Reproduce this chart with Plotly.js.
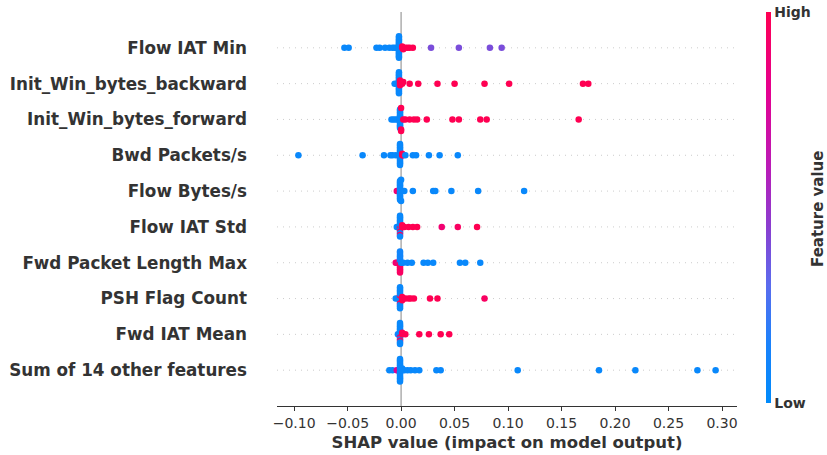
<!DOCTYPE html>
<html>
<head>
<meta charset="utf-8">
<script src="https://cdn.plot.ly/plotly-3.0.1.min.js"></script>
<style>html,body{margin:0;padding:0;background:#fff;}#chart{width:827px;height:455px;}</style>
</head>
<body>
<div id="chart"></div>
<script>
// Feature names, top to bottom
const features = ["Flow IAT Min","Init_Win_bytes_backward","Init_Win_bytes_forward","Bwd Packets/s","Flow Bytes/s","Flow IAT Std","Fwd Packet Length Max","PSH Flag Count","Fwd IAT Mean","Sum of 14 other features"];

// SHAP values and (normalised) feature values per feature
const shapFlowIATMin = [-0.053,-0.049,-0.023,-0.020,-0.015,-0.011,-0.008,-0.006,-0.004,
  -0.002,-0.002,-0.002,-0.002,-0.002,-0.002,-0.002,-0.002,-0.002,-0.002,-0.002,-0.002,-0.002,-0.002,-0.002,-0.002,
  0.001,0.001,0.002,0.004,0.006,0.008,0.011,
  0.028,0.054,0.083,0.094];
const featFlowIATMin = [0.05,0.05,0.05,0.05,0.05,0.05,0.05,0.05,0.05,
  0.05,0.05,0.05,0.05,0.05,0.05,0.05,0.05,0.05,0.05,0.05,0.05,0.05,0.05,0.05,0.05,
  1,1,1,1,1,1,1,
  0.4,0.4,0.4,0.4];

const shapInitWinBwd = [-0.006,-0.004,
  -0.002,-0.002,-0.002,-0.002,-0.002,-0.002,-0.002,-0.002,-0.002,-0.002,-0.002,-0.002,-0.002,-0.002,
  -0.001,-0.001,-0.001,-0.001,
  0.001,0.002,0.008,0.016,0.034,0.050,0.078,0.101,0.170,0.175];
const featInitWinBwd = [0.05,0.05,
  0.05,0.05,0.05,0.05,0.05,0.05,0.05,0.05,0.05,0.05,0.05,0.05,0.05,0.05,
  1,1,1,1,
  1,1,1,1,1,1,1,1,1,1];

const shapInitWinFwd = [-0.009,-0.007,-0.005,-0.003,
  -0.001,-0.001,-0.001,-0.001,-0.001,-0.001,-0.001,-0.001,-0.001,-0.001,-0.001,-0.001,-0.001,-0.001,
  0.000,0.000,0.000,
  0.002,0.004,0.008,0.012,0.015,0.024,0.048,0.054,0.074,0.080,0.166];
const featInitWinFwd = [0.05,0.05,0.05,0.05,
  0.05,0.05,0.05,0.05,0.05,0.05,0.05,0.05,0.05,0.05,0.05,0.05,0.05,0.05,
  1,1,1,
  1,1,1,1,1,1,1,1,1,1,1];

const shapBwdPkts = [-0.096,-0.036,-0.016,-0.010,-0.008,-0.005,
  -0.001,-0.001,-0.001,-0.001,-0.001,-0.001,-0.001,-0.001,-0.001,-0.001,-0.001,-0.001,-0.001,-0.001,
  0.001,0.001,0.002,
  0.004,0.011,0.014,0.026,0.036,0.053];
const featBwdPkts = [0.05,0.05,0.05,0.05,0.05,0.05,
  0.05,0.05,0.05,0.05,0.05,0.05,0.05,0.05,0.05,0.05,0.05,0.05,0.05,0.05,
  1,1,1,
  0.05,0.05,0.05,0.05,0.05,0.05];

const shapFlowBytes = [-0.004,-0.003,
  -0.001,-0.001,-0.001,-0.001,-0.001,-0.001,-0.001,-0.001,-0.001,-0.001,-0.001,-0.001,-0.001,-0.001,
  0.000,0.000,
  0.003,0.011,0.030,0.032,0.047,0.072,0.115];
const featFlowBytes = [0.9,0.9,
  0.85,0.05,0.05,0.05,0.05,0.05,0.05,0.05,0.05,0.05,0.05,0.05,0.05,0.05,
  0.05,0.05,
  0.05,0.05,0.05,0.05,0.05,0.05,0.05];

const shapFlowIATStd = [-0.004,-0.002,
  -0.001,-0.001,-0.001,-0.001,-0.001,-0.001,-0.001,-0.001,-0.001,-0.001,-0.001,-0.001,-0.001,-0.001,
  0.001,0.001,
  0.003,0.007,0.011,0.015,0.038,0.053,0.071];
const featFlowIATStd = [0.05,0.05,
  0.05,0.05,0.95,0.05,0.05,0.05,0.95,0.05,0.05,0.05,0.95,0.05,0.05,0.05,
  1,1,
  1,1,1,1,0.9,0.95,1];

const shapFwdPktLenMax = [-0.005,-0.004,
  -0.001,-0.001,-0.001,-0.001,-0.001,-0.001,-0.001,-0.001,-0.001,-0.001,-0.001,-0.001,-0.001,-0.001,
  0.000,
  0.002,0.006,0.010,0.021,0.025,0.030,0.055,0.060,0.074];
const featFwdPktLenMax = [0.9,0.9,
  0.1,0.1,0.95,0.1,0.95,0.1,0.95,0.1,0.95,0.1,0.95,0.1,0.95,0.1,
  0.05,
  0.05,0.05,0.05,0.05,0.05,0.05,0.05,0.05,0.05];

const shapPSH = [-0.005,-0.003,
  -0.001,-0.001,-0.001,-0.001,-0.001,-0.001,-0.001,-0.001,-0.001,-0.001,-0.001,-0.001,-0.001,-0.001,
  0.001,0.001,0.001,
  0.004,0.007,0.009,0.012,0.027,0.034,0.078];
const featPSH = [0.05,0.05,
  0.05,0.05,0.05,0.95,0.05,0.05,0.95,0.05,0.05,0.05,0.05,0.05,0.05,0.05,
  1,1,1,
  1,1,1,1,1,1,0.95];

const shapFwdIATMean = [-0.003,
  -0.001,-0.001,-0.001,-0.001,-0.001,-0.001,-0.001,-0.001,-0.001,-0.001,-0.001,-0.001,-0.001,-0.001,
  0.001,0.001,
  0.004,0.017,0.026,0.037,0.045];
const featFwdIATMean = [0.1,
  0.05,0.05,0.05,0.05,0.95,0.05,0.05,0.05,0.95,0.05,0.05,0.05,0.05,0.05,
  1,1,
  1,1,1,1,1];

const shapOther = [-0.011,-0.008,-0.004,-0.003,
  -0.001,-0.001,-0.001,-0.001,-0.001,-0.001,-0.001,-0.001,-0.001,-0.001,-0.001,-0.001,-0.001,-0.001,
  0.001,0.001,
  0.003,0.006,0.009,0.013,0.017,0.033,0.037,0.109,0.185,0.219,0.277,0.294];
const featOther = [0.05,0.05,0.8,0.8,
  0.05,0.05,0.05,0.05,0.05,0.05,0.05,0.05,0.05,0.05,0.05,0.05,0.05,0.05,
  0.05,0.05,
  0.05,0.05,0.05,0.05,0.05,0.05,0.05,0.05,0.05,0.05,0.05,0.05];

const shapRows = [shapFlowIATMin,shapInitWinBwd,shapInitWinFwd,shapBwdPkts,shapFlowBytes,shapFlowIATStd,shapFwdPktLenMax,shapPSH,shapFwdIATMean,shapOther];
const featRows = [featFlowIATMin,featInitWinBwd,featInitWinFwd,featBwdPkts,featFlowBytes,featFlowIATStd,featFwdPktLenMax,featPSH,featFwdIATMean,featOther];

const xTicks = [-0.10,-0.05,0.00,0.05,0.10,0.15,0.20,0.25,0.30];

// SHAP-style beeswarm layout (quantised stacking)
function swarm(s){
  const N = s.length, nbins = 100, rowHeight = 0.4;
  const mn = Math.min(...s), mx = Math.max(...s);
  const quant = s.map(v => Math.round(nbins*(v-mn)/(mx-mn+1e-8)));
  const inds = s.map((_,i)=>i).sort((a,b)=>(quant[a]-quant[b])||(a-b));
  const ys = new Array(N).fill(0);
  let layer = 0, last = -1;
  for (const i of inds){
    if (quant[i] !== last) layer = 0;
    ys[i] = Math.ceil(layer/2)*((layer%2)*2-1);
    layer++; last = quant[i];
  }
  const m = Math.max(...ys.map(v=>v+1));
  return ys.map(v => v*0.9*(rowHeight/m));
}

const n = features.length;
const X = [], Y = [], C = [];
shapRows.forEach((s, r) => {
  const pos = n-1-r;
  const ys = swarm(s);
  s.forEach((v,i)=>{ X.push(v); Y.push(pos+ys[i]); C.push(featRows[r][i]); });
});

const colorscale = [[0,'#008bfb'],[0.15,'#1a82fb'],[0.3,'#5a6cee'],[0.45,'#8a3ed0'],[0.6,'#b91cb8'],[0.8,'#e5008f'],[1,'#ff0052']];

const shapes = [];
for (let p=0;p<n;p++){
  shapes.push({type:'line', xref:'paper', x0:0, x1:1, yref:'y', y0:p, y1:p, layer:'below',
    line:{color:'#cccccc', width:1, dash:'1px,5px'}});
}
shapes.push({type:'line', xref:'x', x0:0, x1:0, yref:'paper', y0:0, y1:1, layer:'below',
  line:{color:'#999999', width:1.2}});

const trace = {
  type:'scatter', mode:'markers', x:X, y:Y, hoverinfo:'skip',
  marker:{size:6.5, color:C, colorscale:colorscale, cmin:0, cmax:1, line:{width:0},
    showscale:true,
    colorbar:{x:1.063, xanchor:'left', xpad:0, y:1, yanchor:'top', ypad:0, len:0.992, lenmode:'fraction',
      thickness:5, outlinewidth:0, tickvals:[0,1], ticktext:['Low','High'], ticks:'', ticklen:0,
      tickfont:{family:'DejaVu Sans', size:14, color:'#333333', weight:'bold'},
      title:{text:''}}
  }
};

const layout = {
  width:827, height:455,
  margin:{l:277, r:90, t:12, b:49},
  paper_bgcolor:'#ffffff', plot_bgcolor:'#ffffff',
  font:{family:'DejaVu Sans', color:'#333333'},
  showlegend:false,
  xaxis:{range:[-0.116,0.314], tickvals:xTicks, tickformat:'.2f', ticks:'outside', ticklen:4, tickwidth:1, tickcolor:'#333333',
    showline:true, linecolor:'#333333', linewidth:1, zeroline:false, showgrid:false,
    tickfont:{family:'DejaVu Sans', size:14, color:'#333333'},
    title:{text:'SHAP value (impact on model output)', standoff:6, font:{family:'DejaVu Sans', size:16.5, color:'#333333', weight:'bold'}}},
  yaxis:{range:[-1,n], tickvals:features.map((_,i)=>n-1-i), ticktext:features, ticks:'', showline:false, zeroline:false, showgrid:false,
    ticklabelstandoff:29,
    tickfont:{family:'DejaVu Sans', size:16.8, color:'#333333', weight:'bold'}},
  annotations:[{text:'Feature value', xref:'paper', yref:'paper', x:(818-277)/460, y:0.5, xanchor:'center', yanchor:'middle',
    textangle:-90, showarrow:false, font:{family:'DejaVu Sans', size:15, color:'#333333', weight:'bold'}}],
  shapes:shapes
};

Plotly.newPlot('chart', [trace], layout, {displayModeBar:false, staticPlot:true});
</script>
</body>
</html>
